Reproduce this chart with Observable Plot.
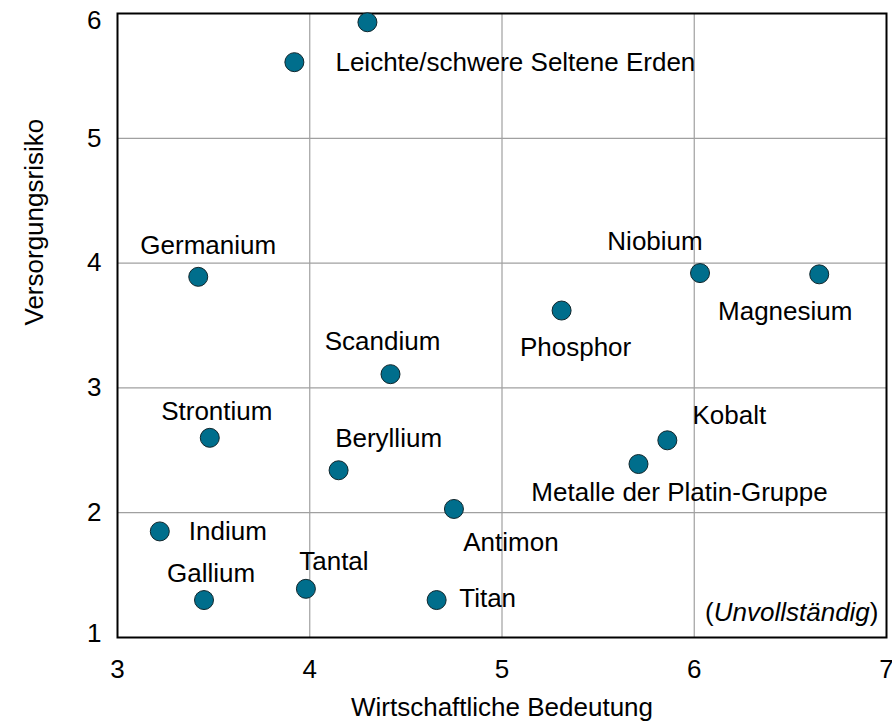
<!DOCTYPE html>
<html>
<head>
<meta charset="utf-8">
<script src="https://cdn.jsdelivr.net/npm/d3@7"></script>
<script src="https://cdn.jsdelivr.net/npm/@observablehq/plot@0.6"></script>
<style>
  html, body { margin: 0; padding: 0; background: #fff; }
  svg { overflow: visible; }
</style>
</head>
<body>
<div id="chart"></div>
<script>
// ---- data ----
const names = [
  "", "Leichte/schwere Seltene Erden", "Germanium", "Niobium", "Magnesium",
  "Phosphor", "Scandium", "Strontium", "Kobalt", "Beryllium",
  "Metalle der Platin-Gruppe", "Antimon", "Indium", "Tantal", "Gallium", "Titan"
];
const bedeutung = [4.30, 3.92, 3.42, 6.03, 6.65, 5.31, 4.42, 3.48, 5.86, 4.15, 5.71, 4.75, 3.22, 3.98, 3.45, 4.66];
const risiko    = [5.93, 5.61, 3.89, 3.92, 3.91, 3.62, 3.11, 2.60, 2.58, 2.34, 2.39, 2.03, 1.85, 1.39, 1.30, 1.30];
const xTicks = [3, 4, 5, 6, 7];
const yTicks = [1, 2, 3, 4, 5, 6];
const xTitle = "Wirtschaftliche Bedeutung";
const yTitle = "Versorgungsrisiko";
const noteParts = ["(", "Unvollständig", ")"];

// ---- label placement (style, pixel offsets from each dot) ----
const labelDx = [0, 221, 10, -45, -34, 14, -8, 7, 62, 50, 41, 57, 68, 28, 7, 51];
const labelDy = [0, 0, -31, -31, 37, 37, -33, -26, -25, -32, 29, 34, 0, -27, -26, -1];

const table = names.map((n, i) => ({name: n, x: bedeutung[i], y: risiko[i], dx: labelDx[i], dy: labelDy[i]}));
const noteText = noteParts.join("");

const font = "'Liberation Sans', Arial, Helvetica, sans-serif";
const yMin = yTicks[0], yMax = yTicks[yTicks.length - 1];

const chart = Plot.plot({
  width: 892,
  height: 721,
  marginLeft: 117,
  marginRight: 6,
  marginTop: 13,
  marginBottom: 84,
  x: {domain: [3, 7]},
  y: {domain: [1, 6]},
  style: {fontFamily: font, fontSize: "26px", color: "#000", background: "#fff", overflow: "visible"},
  marks: [
    Plot.gridX({ticks: xTicks.slice(1, -1), stroke: "#a0a0a0", strokeOpacity: 1, strokeWidth: 1.2}),
    Plot.gridY({ticks: yTicks.slice(1, -1), stroke: "#a0a0a0", strokeOpacity: 1, strokeWidth: 1.2}),
    Plot.frame({stroke: "#000", strokeWidth: 2}),
    Plot.axisX({ticks: xTicks, tickSize: 0, tickPadding: 22, label: null, fontSize: 26, tickFormat: d => String(d)}),
    Plot.axisY({ticks: yTicks.slice(1, -1), tickSize: 0, tickPadding: 16, label: null, fontSize: 26, tickFormat: d => String(d)}),
    Plot.axisY({ticks: [yMax], tickSize: 0, tickPadding: 16, label: null, fontSize: 26, dy: 7, tickFormat: d => String(d)}),
    Plot.axisY({ticks: [yMin], tickSize: 0, tickPadding: 16, label: null, fontSize: 26, dy: -4, tickFormat: d => String(d)}),
    Plot.text([xTitle], {frameAnchor: "bottom", dy: 70, lineAnchor: "middle", fontSize: 26, text: d => d}),
    Plot.text([yTitle], {frameAnchor: "left", dx: -83, rotate: -90, lineAnchor: "middle", fontSize: 26, text: d => d}),
    Plot.text([noteText], {frameAnchor: "bottom-right", dx: -8, dy: -25, textAnchor: "end", lineAnchor: "middle", fontSize: 26, text: d => d}),
    Plot.dot(table, {x: "x", y: "y", r: 9.5, fill: "#006e8c", stroke: "#10262c", strokeWidth: 1, fillOpacity: 1}),
    ...table.filter(d => d.name).map(d =>
      Plot.text([d], {x: "x", y: "y", text: "name", dx: d.dx, dy: d.dy, textAnchor: "middle", lineAnchor: "middle", fontSize: 26, fill: "#000"})
    )
  ]
});

document.getElementById("chart").appendChild(chart);

// italicise the middle part of the note
d3.select(chart).selectAll("text").filter(function() { return this.textContent === noteText; }).each(function() {
  const t = d3.select(this);
  t.text(null);
  t.append("tspan").text(noteParts[0]);
  t.append("tspan").attr("font-style", "italic").text(noteParts[1]);
  t.append("tspan").text(noteParts[2]);
});
</script>
</body>
</html>
